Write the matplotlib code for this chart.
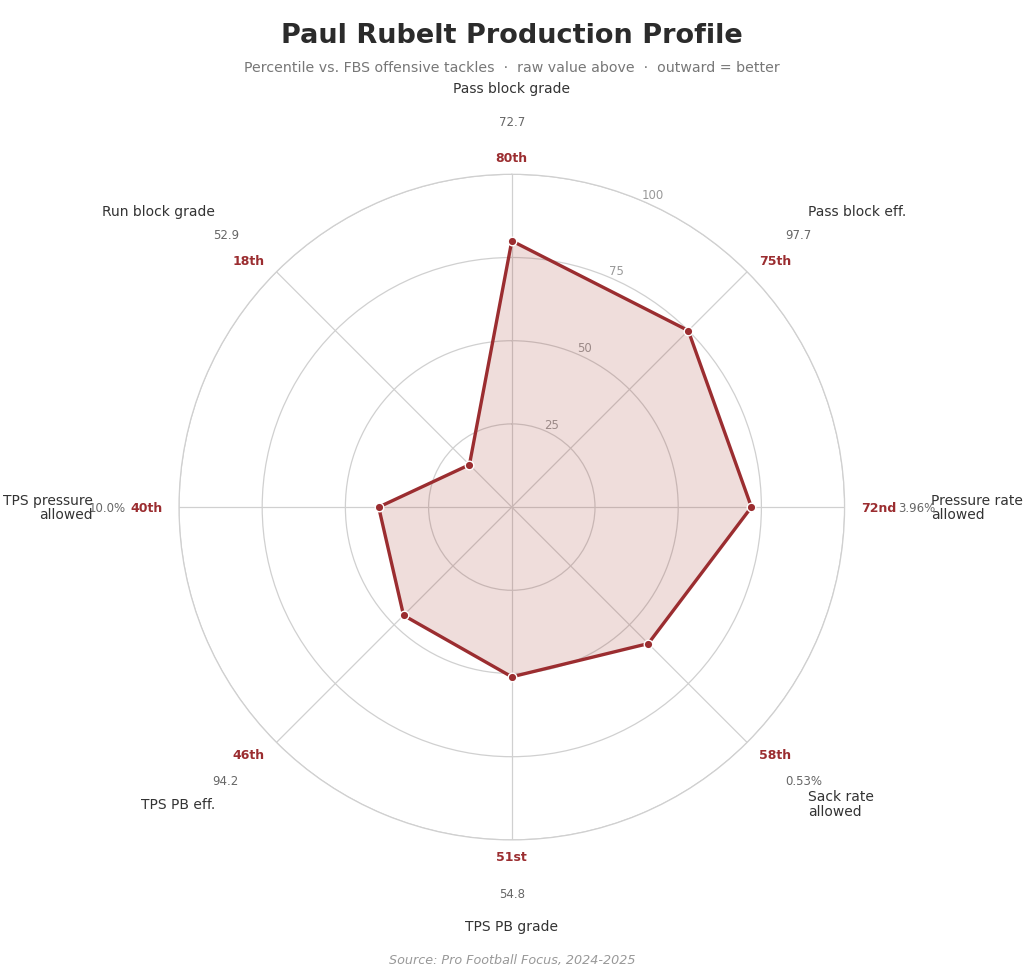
import numpy as np
import matplotlib
matplotlib.use("Agg")
import matplotlib.pyplot as plt

categories = ["Pass block grade", "Pass block eff.", "Pressure rate\nallowed",
              "Sack rate\nallowed", "TPS PB grade", "TPS PB eff.",
              "TPS pressure\nallowed", "Run block grade"]
percentiles = [80, 75, 72, 58, 51, 46, 40, 18]
pct_labels = ["80th", "75th", "72nd", "58th", "51st", "46th", "40th", "18th"]
raw_values = ["72.7", "97.7", "3.96%", "0.53%", "54.8", "94.2", "10.0%", "52.9"]
ring_ticks = [25, 50, 75, 100]

RED = "#9b2d30"
GRID = "#d0d0d0"

fig = plt.figure(figsize=(10.24, 9.79), dpi=100)
ax = fig.add_axes([0.1748, 0.141, 0.650, 0.680], projection="polar")
ax.set_theta_zero_location("N")
ax.set_theta_direction(-1)

n = len(categories)
angles = np.arange(n) * 2 * np.pi / n
vals = np.array(percentiles, dtype=float)
a_closed = np.concatenate([angles, angles[:1]])
v_closed = np.concatenate([vals, vals[:1]])

ax.fill(a_closed, v_closed, color="#a8453a", alpha=0.18, zorder=2)
ax.plot(a_closed, v_closed, color=RED, lw=2.4, zorder=3)
ax.scatter(angles, vals, s=38, color=RED, edgecolor="white", linewidth=1.0, zorder=4)

ax.set_ylim(0, 100)
ax.set_yticks(ring_ticks)
ax.set_yticklabels([str(t) for t in ring_ticks], color="#999999", fontsize=8.5)
ax.set_rlabel_position(23)
ax.set_xticks(angles)
ax.set_xticklabels([])
ax.grid(True, color=GRID, lw=0.9)
ax.spines["polar"].set_color(GRID)
ax.spines["polar"].set_linewidth(0.9)
ax.set_facecolor("white")

def ha_for(a):
    s = np.sin(a)
    if abs(s) < 1e-6:
        return "center"
    return "left" if s > 0 else "right"

for a, cat, pl, rv in zip(angles, categories, pct_labels, raw_values):
    ha = ha_for(a)
    ax.text(a, 105, pl, ha=ha, va="center", color=RED, fontsize=9,
            fontweight="bold", clip_on=False)
    ax.text(a, 116, rv, ha=ha, va="center", color="#666666", fontsize=8.5,
            clip_on=False)
    ax.text(a, 126, cat, ha=ha, va="center", color="#333333", fontsize=10,
            clip_on=False, linespacing=1.05)

fig.text(0.5, 1 - 36 / 979, "Paul Rubelt Production Profile", ha="center",
         va="center", fontsize=19.5, fontweight="bold", color="#2b2b2b")
fig.text(0.5, 1 - 68 / 979,
         "Percentile vs. FBS offensive tackles  \u00b7  raw value above  \u00b7  outward = better",
         ha="center", va="center", fontsize=10.2, color="#777777")
fig.text(0.5, 1 - 961 / 979, "Source: Pro Football Focus, 2024-2025", ha="center",
         va="center", fontsize=9.2, color="#999999", style="italic")

fig.savefig("out.png", dpi=100, facecolor="white")
